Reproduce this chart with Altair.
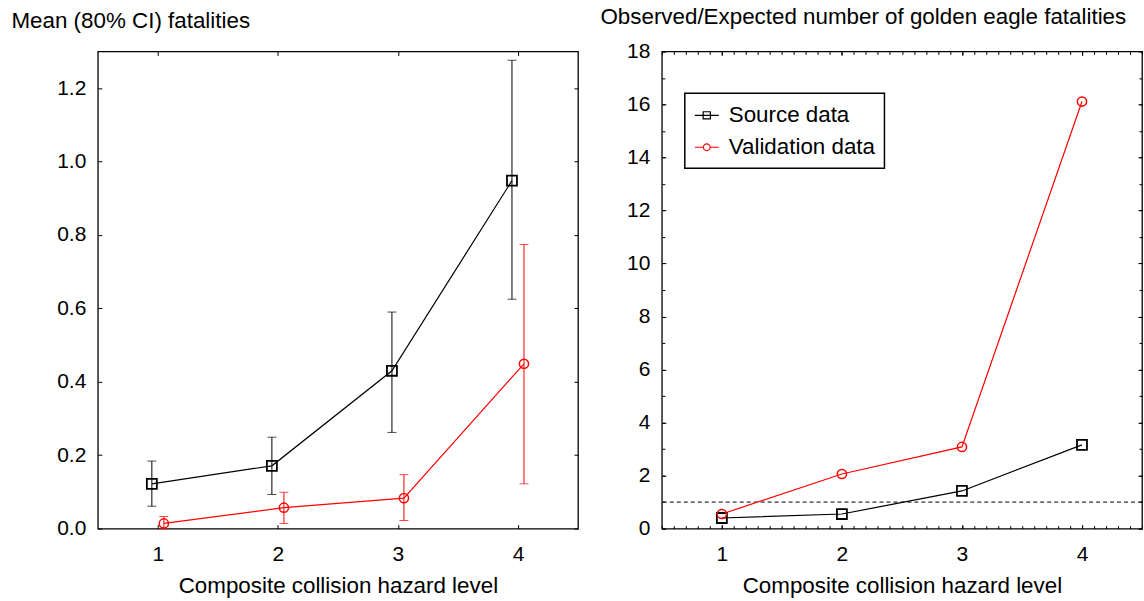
import altair as alt
import pandas as pd

# ---------------- data ----------------
levels = [1, 2, 3, 4]
series_names = ["Source data", "Validation data"]

source_mean = [0.122, 0.171, 0.430, 0.948]
source_lo = [0.061, 0.093, 0.262, 0.625]
source_hi = [0.184, 0.249, 0.590, 1.276]

valid_mean = [0.014, 0.057, 0.083, 0.449]
valid_lo = [0.000, 0.014, 0.022, 0.122]
valid_hi = [0.033, 0.099, 0.147, 0.774]

source_ratio = [0.40, 0.55, 1.42, 3.16]
valid_ratio = [0.55, 2.06, 3.08, 16.11]

reference_line = [1.0]

left_ticks = [0.0, 0.2, 0.4, 0.6, 0.8, 1.0, 1.2]
right_ticks = [0, 2, 4, 6, 8, 10, 12, 14, 16, 18]
right_minor_y = list(range(0, 19))
right_minor_x = [round(0.5 + 0.1 * i, 1) for i in range(41)]

# ---------------- tables ----------------
df_left = pd.DataFrame({
    "level": levels * 2,
    "series": [series_names[0]] * 4 + [series_names[1]] * 4,
    "mean": source_mean + valid_mean,
    "lo": source_lo + valid_lo,
    "hi": source_hi + valid_hi,
})
df_right = pd.DataFrame({
    "level": levels * 2,
    "series": [series_names[0]] * 4 + [series_names[1]] * 4,
    "ratio": source_ratio + valid_ratio,
})
df_ref = pd.DataFrame({"y": reference_line})

FONT = "Liberation Sans"
FS = 21      # tick labels
FT = 22.4    # titles and legend
W, H = 481, 478

xs = alt.Scale(domain=[0.5, 4.5], nice=False, zero=False)
ysl = alt.Scale(domain=[0, 1.3], nice=False, zero=False)
ysr = alt.Scale(domain=[0, 18], nice=False, zero=False)
col_scale = alt.Scale(domain=series_names, range=["#000000", "#ff0000"])


def tick_axis(orient, offset, values, size):
    return alt.Axis(orient=orient, offset=offset, values=values, labels=False,
                    domain=False, ticks=True, tickSize=size, tickColor="black",
                    tickWidth=1, grid=False, title=None)


def x_label_axis():
    return alt.Axis(values=levels, format="d", ticks=False, tickSize=0, domain=False,
                    grid=False, labelPadding=15, labelFontSize=FS, labelFont=FONT,
                    labelColor="black", title="Composite collision hazard level",
                    titleFontSize=FT, titleFont=FONT, titleFontWeight="normal",
                    titleColor="black", titleY=46, titleBaseline="top")


def y_label_axis(values, fmt, title, tx, ty):
    return alt.Axis(values=values, format=fmt, ticks=False, tickSize=0, domain=False,
                    grid=False, labelPadding=12, labelFontSize=FS, labelFont=FONT,
                    labelColor="black", title=title, titleFontSize=FT, titleFont=FONT,
                    titleFontWeight="normal", titleColor="black", titleAngle=0,
                    titleAlign="left", titleBaseline="alphabetic", titleX=tx, titleY=ty)


# ---------------- left panel ----------------
base_l = alt.Chart(df_left).transform_calculate(
    xo="datum.level + (datum.series == 'Source data' ? -0.05 : 0.05)"
)

l_axes = base_l.mark_point(opacity=0).encode(
    x=alt.X("level:Q", scale=xs, axis=x_label_axis()),
    y=alt.Y("mean:Q", scale=ysl,
            axis=y_label_axis(left_ticks, ".1f", "Mean (80% CI) fatalities", -87, -24)),
)
l_t1 = base_l.mark_point(opacity=0).encode(
    x=alt.X("level:Q", scale=xs, axis=tick_axis("top", -H, levels, 4)),
    y=alt.Y("mean:Q", scale=ysl, axis=tick_axis("right", -W, left_ticks, 4)),
)
l_t2 = base_l.mark_point(opacity=0).encode(
    x=alt.X("level:Q", scale=xs, axis=tick_axis("bottom", -H, levels, 4)),
    y=alt.Y("mean:Q", scale=ysl, axis=tick_axis("left", -W, left_ticks, 4)),
)
l_rule = base_l.mark_rule(strokeWidth=1).encode(
    x=alt.X("xo:Q", scale=xs, axis=None),
    y=alt.Y("lo:Q", scale=ysl, axis=None),
    y2="hi:Q",
    color=alt.Color("series:N", scale=col_scale, legend=None),
)
l_cap_lo = base_l.mark_tick(orient="horizontal", size=9, thickness=1).encode(
    x=alt.X("xo:Q", scale=xs, axis=None),
    y=alt.Y("lo:Q", scale=ysl, axis=None),
    color=alt.Color("series:N", scale=col_scale, legend=None),
)
l_cap_hi = base_l.mark_tick(orient="horizontal", size=9, thickness=1).encode(
    x=alt.X("xo:Q", scale=xs, axis=None),
    y=alt.Y("hi:Q", scale=ysl, axis=None),
    color=alt.Color("series:N", scale=col_scale, legend=None),
)
l_line = base_l.mark_line(strokeWidth=1.2).encode(
    x=alt.X("xo:Q", scale=xs, axis=None),
    y=alt.Y("mean:Q", scale=ysl, axis=None),
    color=alt.Color("series:N", scale=col_scale, legend=None),
    order="level:Q",
)
l_sq = base_l.transform_filter(alt.datum.series == series_names[0]).mark_point(
    shape="square", size=100, strokeWidth=1.8, color="black", filled=False, opacity=1
).encode(x=alt.X("xo:Q", scale=xs, axis=None), y=alt.Y("mean:Q", scale=ysl, axis=None))
l_ci = base_l.transform_filter(alt.datum.series == series_names[1]).mark_point(
    shape="circle", size=85, strokeWidth=1.5, color="#ff0000", filled=False, opacity=1
).encode(x=alt.X("xo:Q", scale=xs, axis=None), y=alt.Y("mean:Q", scale=ysl, axis=None))

left = alt.layer(l_axes, l_t1, l_t2, l_rule, l_cap_lo, l_cap_hi, l_line, l_sq, l_ci).resolve_axis(
    x="independent", y="independent"
).properties(width=W, height=H)

# ---------------- right panel ----------------
base_r = alt.Chart(df_right)

r_axes = base_r.mark_point(opacity=0).encode(
    x=alt.X("level:Q", scale=xs, axis=x_label_axis()),
    y=alt.Y("ratio:Q", scale=ysr,
            axis=y_label_axis(right_ticks, "d",
                              "Observed/Expected number of golden eagle fatalities", -62, -28)),
)
r_t1 = base_r.mark_point(opacity=0).encode(
    x=alt.X("level:Q", scale=xs, axis=tick_axis("top", -H, levels, 4)),
    y=alt.Y("ratio:Q", scale=ysr, axis=tick_axis("right", -W, right_ticks, 4)),
)
r_t2 = base_r.mark_point(opacity=0).encode(
    x=alt.X("level:Q", scale=xs, axis=tick_axis("bottom", -H, levels, 4)),
    y=alt.Y("ratio:Q", scale=ysr, axis=tick_axis("left", -W, right_ticks, 4)),
)
r_m1 = base_r.mark_point(opacity=0).encode(
    x=alt.X("level:Q", scale=xs, axis=tick_axis("top", -H, right_minor_x, 3)),
    y=alt.Y("ratio:Q", scale=ysr, axis=tick_axis("right", -W, right_minor_y, 3)),
)
r_m2 = base_r.mark_point(opacity=0).encode(
    x=alt.X("level:Q", scale=xs, axis=tick_axis("bottom", -H, right_minor_x, 3)),
    y=alt.Y("ratio:Q", scale=ysr, axis=tick_axis("left", -W, right_minor_y, 3)),
)
r_ref = alt.Chart(df_ref).mark_rule(strokeDash=[4, 3], strokeWidth=1, color="black").encode(
    y=alt.Y("y:Q", scale=ysr, axis=None)
)
r_line_s = base_r.transform_filter(alt.datum.series == series_names[0]).mark_line(
    strokeWidth=1.2, color="black"
).encode(x=alt.X("level:Q", scale=xs, axis=None), y=alt.Y("ratio:Q", scale=ysr, axis=None))
r_line_v = base_r.transform_filter(alt.datum.series == series_names[1]).mark_line(
    strokeWidth=1.2, color="#ff0000"
).encode(x=alt.X("level:Q", scale=xs, axis=None), y=alt.Y("ratio:Q", scale=ysr, axis=None))
r_sq = base_r.transform_filter(alt.datum.series == series_names[0]).mark_point(
    shape="square", size=100, strokeWidth=1.8, color="black", filled=False, opacity=1
).encode(x=alt.X("level:Q", scale=xs, axis=None), y=alt.Y("ratio:Q", scale=ysr, axis=None))
r_ci = base_r.transform_filter(alt.datum.series == series_names[1]).mark_point(
    shape="circle", size=85, strokeWidth=1.5, color="#ff0000", filled=False, opacity=1
).encode(x=alt.X("level:Q", scale=xs, axis=None), y=alt.Y("ratio:Q", scale=ysr, axis=None))

sq_path = "M-1,0L1,0M-0.3,-0.3L0.3,-0.3L0.3,0.3L-0.3,0.3Z"
ci_path = "M-1,0L-0.28,0M0.28,0L1,0M0.28,0A0.28,0.28,0,1,1,-0.28,0A0.28,0.28,0,1,1,0.28,0"

leg = alt.Legend(orient="none", legendX=23, legendY=42, title=None, labelFontSize=FT,
                 labelFont=FONT, labelColor="black", symbolSize=576, symbolStrokeWidth=1.2,
                 symbolOpacity=1, padding=9, rowPadding=7, labelOffset=9,
                 strokeColor="black", fillColor="white")
r_legend = base_r.mark_point(filled=False, opacity=0).encode(
    x=alt.X("level:Q", scale=xs, axis=None),
    y=alt.Y("ratio:Q", scale=ysr, axis=None),
    color=alt.Color("series:N", scale=col_scale, legend=leg),
    shape=alt.Shape("series:N", scale=alt.Scale(domain=series_names, range=[sq_path, ci_path]),
                    legend=leg),
)

right = alt.layer(r_axes, r_t1, r_t2, r_m1, r_m2, r_ref, r_line_s, r_line_v, r_sq, r_ci,
                  r_legend).resolve_axis(x="independent", y="independent").properties(
    width=W, height=H)

chart = alt.hconcat(left, right, spacing=84, bounds="flush").resolve_scale(
    color="independent", shape="independent"
).resolve_legend(color="independent", shape="independent").properties(
    padding={"left": 10, "top": 4, "right": 0, "bottom": 0},
    background="white",
).configure_view(stroke="black", strokeWidth=1.3).configure_legend(strokeWidth=1.5)

chart.save("out.html", embed_options={"renderer": "svg", "actions": False})
